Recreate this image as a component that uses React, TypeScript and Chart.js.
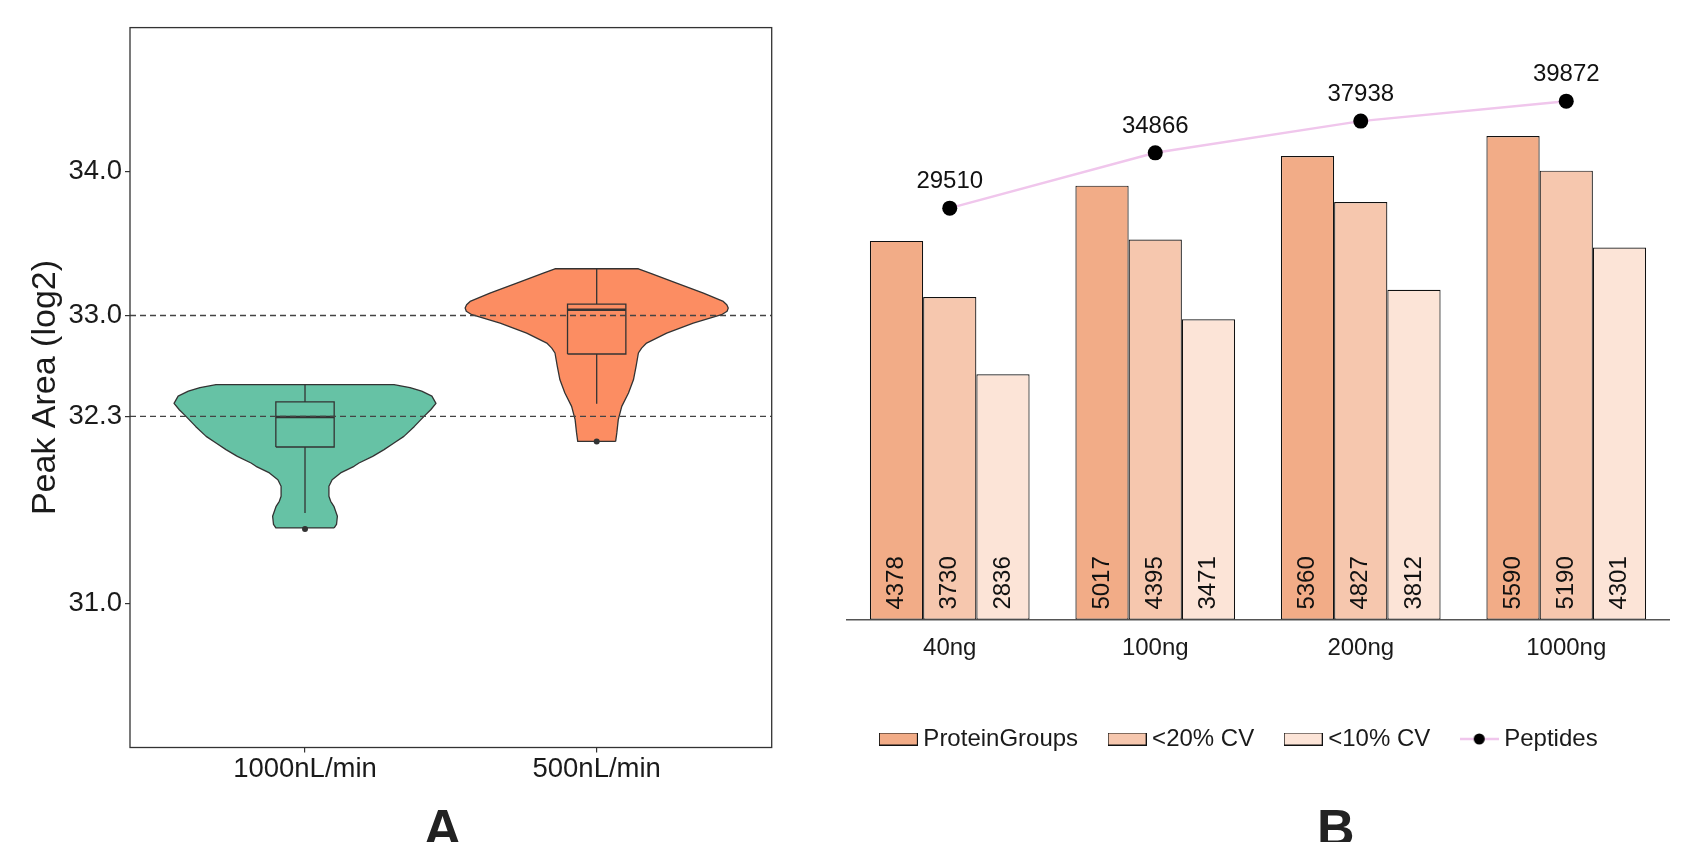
import React, { useEffect, useRef } from "react";
import { Chart, registerables } from "chart.js";

Chart.register(...registerables);

const FONT = "'Liberation Sans', Arial, Helvetica, sans-serif";
const INK = "#1a1a1a";
const OUTLINE = "#333333";

// ---------------- Panel A data ----------------
const flowCategories = ["1000nL/min", "500nL/min"];
const flowPositions = [1, 2];
const flowRange = [0.4, 2.6];
const peakRange = [30, 35];
const peakTicks = [31.0, 32.3, 33.0, 34.0];
const referenceLines = [33.0, 32.3];
const flowColors = ["#66C2A5", "#FC8D62"];

// violin outlines: log2 peak area (bottom -> top) and density half-width
const violin1000Y = [31.525, 31.55, 31.606, 31.675, 31.71, 31.745, 31.814, 31.86, 31.907, 31.93, 31.953, 31.976, 32.022, 32.069, 32.115, 32.161, 32.23, 32.3, 32.346, 32.39, 32.44, 32.475, 32.5, 32.52];
const violin1000Half = [0.1, 0.108, 0.111, 0.099, 0.088, 0.082, 0.082, 0.093, 0.122, 0.145, 0.168, 0.185, 0.232, 0.271, 0.305, 0.339, 0.375, 0.408, 0.431, 0.449, 0.435, 0.4, 0.36, 0.305];
const violin500Y = [32.126, 32.185, 32.277, 32.369, 32.462, 32.554, 32.647, 32.74, 32.774, 32.809, 32.878, 32.948, 33.006, 33.03, 33.052, 33.075, 33.098, 33.156, 33.226, 33.295, 33.325];
const violin500Half = [0.065, 0.069, 0.074, 0.086, 0.109, 0.126, 0.135, 0.143, 0.154, 0.171, 0.24, 0.331, 0.428, 0.447, 0.451, 0.446, 0.434, 0.366, 0.274, 0.183, 0.143];

// box stats: [lower whisker, Q1, median, Q3, upper whisker]
const box1000Stats = [31.629, 32.087, 32.295, 32.4, 32.52];
const box500Stats = [32.388, 32.733, 33.04, 33.08, 33.325];
const outlier1000 = [31.518];
const outlier500 = [32.126];
const boxHalfWidth = 0.1;

// ---------------- Panel B data ----------------
const loadCategories = ["40ng", "100ng", "200ng", "1000ng"];
const proteinGroups = [4378, 5017, 5360, 5590];
const cv20 = [3730, 4395, 4827, 5190];
const cv10 = [2836, 3471, 3812, 4301];
const peptides = [29510, 34866, 37938, 39872];
const barColors = ["#F2AC87", "#F6C7AE", "#FCE4D7"];
const peptideColor = "#F0C6EC";

function violinPolygon(center: number, ys: number[], hws: number[]) {
  const right = ys.map((y, i) => ({ x: center + hws[i], y }));
  const left = ys.map((y, i) => ({ x: center - hws[i], y })).reverse();
  return [...right, ...left, right[0]];
}

function lineDs(data: any[], extra: any = {}) {
  return {
    data,
    showLine: true,
    fill: false,
    pointRadius: 0,
    borderColor: OUTLINE,
    borderWidth: 1.3,
    tension: 0,
    ...extra,
  };
}

function buildPanelADatasets() {
  const ds: any[] = [];
  const groups = [
    { c: flowPositions[0], ys: violin1000Y, hw: violin1000Half, stats: box1000Stats, out: outlier1000, color: flowColors[0] },
    { c: flowPositions[1], ys: violin500Y, hw: violin500Half, stats: box500Stats, out: outlier500, color: flowColors[1] },
  ];
  groups.forEach((g) => {
    const [lo, q1, med, q3, hi] = g.stats;
    const w = boxHalfWidth;
    ds.push(lineDs(violinPolygon(g.c, g.ys, g.hw), { fill: "shape", backgroundColor: g.color, borderJoinStyle: "round", order: 10 }));
    ds.push(lineDs([{ x: g.c - w, y: q1 }, { x: g.c + w, y: q1 }, { x: g.c + w, y: q3 }, { x: g.c - w, y: q3 }, { x: g.c - w, y: q1 }], { order: 5 }));
    ds.push(lineDs([{ x: g.c - w, y: med }, { x: g.c + w, y: med }], { borderWidth: 2.4, order: 5 }));
    ds.push(lineDs([{ x: g.c, y: q3 }, { x: g.c, y: hi }], { order: 5 }));
    ds.push(lineDs([{ x: g.c, y: q1 }, { x: g.c, y: lo }], { order: 5 }));
    ds.push({
      data: g.out.map((v) => ({ x: g.c, y: v })),
      showLine: false,
      pointRadius: 3,
      pointBackgroundColor: OUTLINE,
      pointBorderWidth: 0,
      order: 4,
    });
  });
  referenceLines.forEach((v) => {
    ds.push(lineDs([{ x: flowRange[0], y: v }, { x: flowRange[1], y: v }], { borderDash: [6, 4], borderColor: "#444", borderWidth: 1.4, order: 1 }));
  });
  return ds;
}

const decorPlugin = {
  id: "decor",
  afterDraw(chart: any, _args: any, opts: any) {
    const { ctx, chartArea } = chart;
    ctx.save();
    if (opts.frame) {
      ctx.strokeStyle = OUTLINE;
      ctx.lineWidth = 1.3;
      ctx.strokeRect(chartArea.left, chartArea.top, chartArea.right - chartArea.left, chartArea.bottom - chartArea.top);
    }
    if (opts.label) {
      ctx.font = `bold 52px ${FONT}`;
      ctx.fillStyle = "#222";
      ctx.textAlign = "center";
      ctx.textBaseline = "alphabetic";
      ctx.fillText(opts.label, opts.labelX, opts.labelY);
    }
    ctx.restore();
  },
};

const valueLabelPlugin = {
  id: "valueLabels",
  afterDatasetsDraw(chart: any) {
    const { ctx } = chart;
    ctx.save();
    ctx.fillStyle = "#111";
    ctx.font = `24px ${FONT}`;
    chart.data.datasets.forEach((ds: any, di: number) => {
      const meta = chart.getDatasetMeta(di);
      meta.data.forEach((el: any, i: number) => {
        const v = ds.data[i];
        if (meta.type === "bar") {
          ctx.save();
          ctx.translate(el.x, el.base - 10);
          ctx.rotate(-Math.PI / 2);
          ctx.textAlign = "left";
          ctx.textBaseline = "middle";
          ctx.fillText(String(v), 0, 0);
          ctx.restore();
        } else {
          ctx.textAlign = "center";
          ctx.textBaseline = "alphabetic";
          ctx.fillText(String(v), el.x, el.y - 20);
        }
      });
    });
    ctx.restore();
  },
};

function makeSwatch(fill: string) {
  const c = document.createElement("canvas");
  c.width = 39;
  c.height = 13;
  const g = c.getContext("2d")!;
  g.fillStyle = fill;
  g.fillRect(0.5, 0.5, 38, 12);
  g.strokeStyle = "#111";
  g.lineWidth = 1;
  g.strokeRect(0.5, 0.5, 38, 12);
  return c;
}

function makeLineDot() {
  const c = document.createElement("canvas");
  c.width = 39;
  c.height = 16;
  const g = c.getContext("2d")!;
  g.strokeStyle = peptideColor;
  g.lineWidth = 2.5;
  g.beginPath();
  g.moveTo(0, 8);
  g.lineTo(39, 8);
  g.stroke();
  g.fillStyle = "#000";
  g.beginPath();
  g.arc(19.5, 8, 5.5, 0, Math.PI * 2);
  g.fill();
  return c;
}

export default function App() {
  const aRef = useRef<HTMLCanvasElement>(null);
  const bRef = useRef<HTMLCanvasElement>(null);

  useEffect(() => {
    const chartA = new Chart(aRef.current!, {
      type: "scatter",
      data: { datasets: buildPanelADatasets() },
      plugins: [decorPlugin],
      options: {
        responsive: false,
        devicePixelRatio: 1,
        animation: false,
        events: [],
        layout: { padding: { top: 27.6, right: 30.3, left: 0, bottom: 0 } },
        plugins: {
          legend: { display: false },
          tooltip: { enabled: false },
          decor: { frame: true, label: "A", labelX: 442.5, labelY: 846 },
        } as any,
        scales: {
          x: {
            type: "linear",
            min: flowRange[0],
            max: flowRange[1],
            afterBuildTicks: (s: any) => {
              s.ticks = flowPositions.map((v) => ({ value: v }));
            },
            afterFit: (s: any) => {
              s.height = 94.5;
            },
            border: { display: false },
            grid: { display: true, drawOnChartArea: false, drawTicks: true, tickLength: 5, color: OUTLINE, lineWidth: 1.2 },
            ticks: {
              padding: 0,
              color: INK,
              font: { size: 27.5, family: FONT },
              maxRotation: 0,
              autoSkip: false,
              callback: (_v: any, i: number) => flowCategories[i],
            },
          },
          y: {
            type: "linear",
            min: peakRange[0],
            max: peakRange[1],
            afterBuildTicks: (s: any) => {
              s.ticks = peakTicks.map((v) => ({ value: v }));
            },
            afterFit: (s: any) => {
              s.width = 130;
            },
            border: { display: false },
            grid: { display: true, drawOnChartArea: false, drawTicks: true, tickLength: 5, color: OUTLINE, lineWidth: 1.2 },
            ticks: {
              padding: 3,
              color: INK,
              font: { size: 27.5, family: FONT },
              autoSkip: false,
              callback: (v: any) => Number(v).toFixed(1),
            },
            title: {
              display: true,
              text: "Peak Area (log2)",
              color: INK,
              font: { size: 34, family: FONT },
              padding: { top: 25.6, bottom: 0 },
            },
          },
        },
      } as any,
    });

    const symbols = [makeSwatch(barColors[0]), makeSwatch(barColors[1]), makeSwatch(barColors[2]), makeLineDot()];

    const barStyle = { borderColor: "#111", borderWidth: 1.2, borderSkipped: false, yAxisID: "y", categoryPercentage: 0.777, barPercentage: 1 };

    const chartB = new Chart(bRef.current!, {
      type: "bar",
      data: {
        labels: loadCategories,
        datasets: [
          { label: "ProteinGroups", data: proteinGroups, backgroundColor: barColors[0], ...barStyle },
          { label: "<20% CV", data: cv20, backgroundColor: barColors[1], ...barStyle },
          { label: "<10% CV", data: cv10, backgroundColor: barColors[2], ...barStyle },
          {
            type: "line",
            label: "Peptides",
            data: peptides,
            yAxisID: "y2",
            borderColor: peptideColor,
            borderWidth: 2.5,
            tension: 0,
            fill: false,
            pointRadius: 7.5,
            pointBackgroundColor: "#000",
            pointBorderColor: "#000",
            pointBorderWidth: 0,
          },
        ] as any,
      },
      plugins: [valueLabelPlugin, decorPlugin],
      options: {
        responsive: false,
        devicePixelRatio: 1,
        animation: false,
        events: [],
        layout: { padding: { top: 14.1, right: 0, left: 0, bottom: 81 } },
        plugins: {
          tooltip: { enabled: false },
          decor: { frame: false, label: "B", labelX: 533.8, labelY: 846 },
          legend: {
            display: true,
            position: "bottom",
            align: "center",
            labels: {
              usePointStyle: true,
              pointStyleWidth: 26,
              boxHeight: 12,
              padding: 36,
              color: INK,
              font: { size: 24, family: FONT },
              generateLabels: (chart: any) => {
                const items = (Chart as any).defaults.plugins.legend.labels.generateLabels(chart);
                return items.map((it: any) => ({ ...it, pointStyle: symbols[it.datasetIndex] }));
              },
            },
          },
        } as any,
        scales: {
          x: {
            type: "category",
            offset: true,
            afterFit: (s: any) => {
              s.height = 71.4;
            },
            grid: { display: false, drawTicks: false },
            border: { display: true, color: "#555", width: 1.5 },
            ticks: { padding: 14, color: INK, font: { size: 24, family: FONT }, maxRotation: 0 },
          },
          y: {
            type: "linear",
            position: "left",
            min: 0,
            max: 7000,
            afterFit: (s: any) => {
              s.width = 45;
            },
            grid: { display: false, drawTicks: false },
            border: { display: false },
            ticks: { display: false },
          },
          y2: {
            type: "linear",
            position: "right",
            min: -10346,
            max: 48304,
            afterFit: (s: any) => {
              s.width = 12;
            },
            grid: { display: false, drawTicks: false },
            border: { display: false },
            ticks: { display: false },
          },
        },
      } as any,
    });

    return () => {
      chartA.destroy();
      chartB.destroy();
    };
  }, []);

  return (
    <div style={{ position: "absolute", left: 0, top: 0, width: 1681, height: 842, background: "#fff", overflow: "hidden" }}>
      <canvas ref={aRef} width={802} height={842} style={{ position: "absolute", left: 0, top: 0, width: 802, height: 842 }} />
      <canvas ref={bRef} width={879} height={842} style={{ position: "absolute", left: 802, top: 0, width: 879, height: 842 }} />
    </div>
  );
}
